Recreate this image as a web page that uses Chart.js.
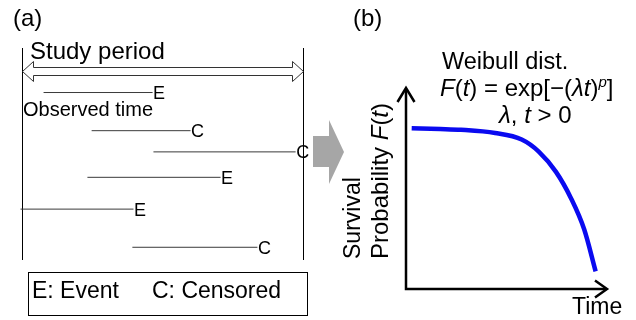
<!DOCTYPE html>
<html><head><meta charset="utf-8">
<script src="https://cdn.jsdelivr.net/npm/chart.js@4.4.1/dist/chart.umd.min.js"></script>
<style>
html,body{margin:0;padding:0;background:#fff;}
#wrap{position:relative;width:636px;height:320px;overflow:hidden;background:#fff;}
canvas{position:absolute;left:0;top:0;}
</style></head><body>
<div id="wrap"><canvas id="ca" width="636" height="320"></canvas><canvas id="cb" width="636" height="320"></canvas></div>
<script>
// ---------- Panel (a): subjects observed during the study period ----------
const subjects = ['S1', 'S2', 'S3', 'S4', 'S5', 'S6'];
const entryTime = [7.5, 24.6, 46.6, 23.1, -0.7, 39.1];
const exitTime = [46.3, 59.8, 97.2, 70.5, 39.5, 83.6];
const outcome = ['E', 'C', 'C', 'E', 'E', 'C'];
const subjectRow = [2.1, 3.9, 4.9, 6.1, 7.6, 9.4];
const studyPeriod = [0, 100];
const studyRow = 1.08;
const legendItems = ['E: Event', 'C: Censored'];

// ---------- Panel (b): Weibull survival curve ----------
const timeValues = [0.03, 0.18, 0.29, 0.47, 0.61, 0.70, 0.79, 0.87, 0.94, 1.0];
const survivalValues = [1.0, 0.995, 0.99, 0.97, 0.93, 0.855, 0.73, 0.565, 0.37, 0.11];

const FAM = '"Liberation Sans", Arial, Helvetica, sans-serif';
function font(size, italic) { return (italic ? 'italic ' : '') + size + 'px ' + FAM; }
function drawRuns(ctx, x, y, runs, size) {
  for (const r of runs) {
    const s = r.sup ? Math.round(size * 0.62) : size;
    ctx.font = font(s, r.it);
    const dy = r.sup ? -size * 0.36 : 0;
    ctx.fillText(r.t, x, y + dy);
    x += ctx.measureText(r.t).width;
  }
  return x;
}

Chart.defaults.font.family = FAM;

const panelA = {
  id: 'panelA',
  afterDatasetsDraw(chart) {
    const ctx = chart.ctx, xs = chart.scales.x, ys = chart.scales.y;
    ctx.save();
    ctx.fillStyle = '#000';
    ctx.textBaseline = 'alphabetic';
    // (a)
    ctx.font = font(24);
    ctx.fillText('(a)', 13, 26);
    // outcome labels at the end of each observation line
    ctx.font = font(18);
    outcome.forEach((o, i) => {
      ctx.fillText(o, xs.getPixelForValue(exitTime[i]) + 0.5, ys.getPixelForValue(subjectRow[i]) + 6.5);
    });
    // study period double arrow (hollow)
    const x0 = xs.getPixelForValue(studyPeriod[0]), x1 = xs.getPixelForValue(studyPeriod[1]);
    const y = Math.round(ys.getPixelForValue(studyRow)) + 0.5;
    const hl = 11, hw = 10, sw = 4;
    ctx.beginPath();
    ctx.moveTo(x0, y);
    ctx.lineTo(x0 + hl, y - hw); ctx.lineTo(x0 + hl, y - sw);
    ctx.lineTo(x1 - hl, y - sw); ctx.lineTo(x1 - hl, y - hw);
    ctx.lineTo(x1, y);
    ctx.lineTo(x1 - hl, y + hw); ctx.lineTo(x1 - hl, y + sw);
    ctx.lineTo(x0 + hl, y + sw); ctx.lineTo(x0 + hl, y + hw);
    ctx.closePath();
    ctx.strokeStyle = '#333'; ctx.lineWidth = 1;
    ctx.stroke();
    ctx.font = font(24);
    ctx.fillText('Study period', 30, 59);
    ctx.font = font(20);
    ctx.fillText('Observed time', 23, 116);
    // legend box
    ctx.strokeStyle = '#000'; ctx.lineWidth = 1;
    ctx.strokeRect(28.5, 272.5, 279, 43);
    ctx.font = font(23);
    ctx.fillText(legendItems[0], 32, 298);
    ctx.fillText(legendItems[1], 152, 298);
    // grey block arrow between panels
    ctx.beginPath();
    ctx.moveTo(313, 136); ctx.lineTo(329, 136); ctx.lineTo(329, 120);
    ctx.lineTo(344, 152); ctx.lineTo(329, 184); ctx.lineTo(329, 167);
    ctx.lineTo(313, 167); ctx.closePath();
    ctx.fillStyle = '#a6a6a6';
    ctx.fill();
    ctx.restore();
  }
};

const dsA = subjects.map((s, i) => ({
  label: s,
  data: [{x: entryTime[i], y: subjectRow[i]}, {x: exitTime[i], y: subjectRow[i]}],
  showLine: true, borderColor: '#3a3a3a', borderWidth: 1, pointRadius: 0, clip: false
}));
studyPeriod.forEach(v => dsA.push({
  label: 'bound' + v,
  data: [{x: v, y: 0}, {x: v, y: 10}],
  showLine: true, borderColor: '#000', borderWidth: 1, pointRadius: 0, clip: false
}));

new Chart(document.getElementById('ca'), {
  type: 'scatter',
  data: {datasets: dsA},
  options: {
    responsive: false, animation: false, devicePixelRatio: 1,
    layout: {padding: {left: 22.5, right: 332.5, top: 48, bottom: 60}},
    scales: {
      x: {type: 'linear', min: 0, max: 100, display: false},
      y: {type: 'linear', min: 0, max: 10, reverse: true, display: false}
    },
    plugins: {legend: {display: false}, tooltip: {enabled: false}}
  },
  plugins: [panelA]
});

const panelB = {
  id: 'panelB',
  afterDatasetsDraw(chart) {
    const ctx = chart.ctx;
    const {left, right, top, bottom} = chart.chartArea;
    ctx.save();
    // axes with arrowheads
    ctx.strokeStyle = '#000'; ctx.lineWidth = 2.5; ctx.lineJoin = 'miter';
    ctx.beginPath();
    ctx.moveTo(left, top + 1); ctx.lineTo(left, bottom); ctx.lineTo(right - 1, bottom);
    ctx.stroke();
    ctx.beginPath();
    ctx.moveTo(left - 8.5, top + 14); ctx.lineTo(left, top); ctx.lineTo(left + 8.5, top + 14);
    ctx.moveTo(right - 12, bottom - 8.5); ctx.lineTo(right, bottom); ctx.lineTo(right - 12, bottom + 8.5);
    ctx.stroke();
    ctx.fillStyle = '#000';
    ctx.textBaseline = 'alphabetic';
    ctx.font = font(24);
    ctx.fillText('(b)', 353, 26);
    ctx.font = font(23.5);
    ctx.fillText('Weibull dist.', 442, 69);
    drawRuns(ctx, 440, 96, [
      {t: 'F', it: true}, {t: '('}, {t: 't', it: true}, {t: ') = exp[\u2212('},
      {t: '\u03bbt', it: true}, {t: ')'}, {t: 'p', it: true, sup: true}, {t: ']'}
    ], 24);
    drawRuns(ctx, 499, 123, [
      {t: '\u03bb', it: true}, {t: ', '}, {t: 't', it: true}, {t: ' > 0'}
    ], 24);
    ctx.font = font(23);
    ctx.fillText('Time', 572, 314);
    // rotated y-axis title
    ctx.save();
    ctx.translate(360, 259); ctx.rotate(-Math.PI / 2);
    ctx.font = font(23);
    ctx.fillText('Survival', 0, 0);
    ctx.restore();
    ctx.save();
    ctx.translate(388, 259); ctx.rotate(-Math.PI / 2);
    drawRuns(ctx, 0, 0, [
      {t: 'Probability '}, {t: 'F', it: true}, {t: '('}, {t: 't', it: true}, {t: ')'}
    ], 24);
    ctx.restore();
    ctx.restore();
  }
};

new Chart(document.getElementById('cb'), {
  type: 'scatter',
  data: {datasets: [{
    label: 'Survival probability',
    data: timeValues.map((t, i) => ({x: t, y: survivalValues[i]})),
    showLine: true, borderColor: '#0a0af0', borderWidth: 4.5, pointRadius: 0,
    cubicInterpolationMode: 'monotone', clip: false
  }]},
  options: {
    responsive: false, animation: false, devicePixelRatio: 1,
    layout: {padding: {left: 406, right: 29, top: 88, bottom: 31}},
    scales: {
      x: {type: 'linear', min: 0, max: 1.06, display: false},
      y: {type: 'linear', min: 0, max: 1.25, display: false}
    },
    plugins: {legend: {display: false}, tooltip: {enabled: false}}
  },
  plugins: [panelB]
});
</script>
</body></html>
